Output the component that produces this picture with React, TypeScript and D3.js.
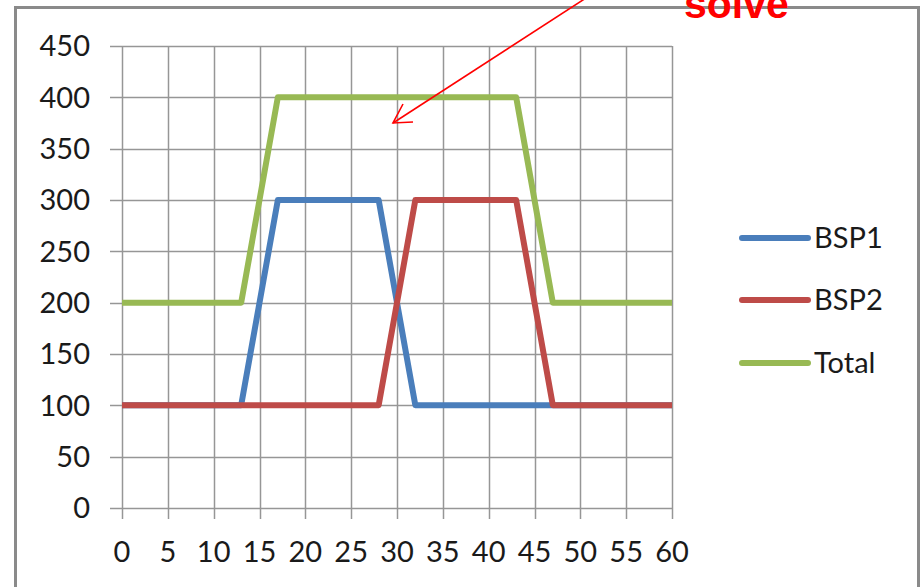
import { useEffect, useRef } from 'react';
import * as d3 from 'd3';

// breakpoints of the three series (x = time)
const times = [0, 13, 17, 28, 32, 43, 47, 60];
const bsp1 = [100, 100, 300, 300, 100, 100, 100, 100];
const bsp2 = [100, 100, 100, 100, 300, 300, 100, 100];
const total = [200, 200, 400, 400, 400, 400, 200, 200];

const xTicks = [0, 5, 10, 15, 20, 25, 30, 35, 40, 45, 50, 55, 60];
const yTicks = [0, 50, 100, 150, 200, 250, 300, 350, 400, 450];

const seriesNames = ['BSP1', 'BSP2', 'Total'];
const seriesColors = ['#4A7EBB', '#BE4B48', '#98B954'];

export default function App() {
    const ref = useRef<SVGSVGElement>(null);

    useEffect(() => {
        if (!ref.current) return;
        const svg = d3.select(ref.current);
        svg.selectAll('*').remove();

        const width = 922;
        const height = 587;
        const font = 'Lato, "Open Sans", sans-serif';
        const grid = '#969696';

        // outer frame
        svg.append('rect')
            .attr('x', 15.5).attr('y', 7.5)
            .attr('width', 903).attr('height', height + 10)
            .attr('fill', 'white')
            .attr('stroke', '#8a8a8a')
            .attr('stroke-width', 3);

        const x = d3.scaleLinear().domain([0, 60]).range([122, 672]);
        const y = d3.scaleLinear().domain([0, 450]).range([508, 46]);

        // horizontal gridlines (extend left as tick marks)
        svg.append('g')
            .selectAll('line')
            .data(yTicks)
            .join('line')
            .attr('x1', x(0) - 12).attr('x2', x(60))
            .attr('y1', d => Math.round(y(d)) + 0.5).attr('y2', d => Math.round(y(d)) + 0.5)
            .attr('stroke', grid).attr('stroke-width', 1.5);

        // vertical gridlines (extend below as tick marks)
        svg.append('g')
            .selectAll('line')
            .data(xTicks)
            .join('line')
            .attr('x1', d => Math.round(x(d)) + 0.5).attr('x2', d => Math.round(x(d)) + 0.5)
            .attr('y1', y(450)).attr('y2', y(0) + 11)
            .attr('stroke', grid).attr('stroke-width', 1.5);

        // y labels
        svg.append('g')
            .selectAll('text')
            .data(yTicks)
            .join('text')
            .attr('x', 90)
            .attr('y', d => y(d))
            .attr('dy', '0.36em')
            .attr('text-anchor', 'end')
            .attr('font-family', font)
            .attr('font-size', 29)
            .attr('fill', '#1a1a1a')
            .text(d => d);

        // x labels
        svg.append('g')
            .selectAll('text')
            .data(xTicks)
            .join('text')
            .attr('x', d => x(d))
            .attr('y', 552)
            .attr('dy', '0.36em')
            .attr('text-anchor', 'middle')
            .attr('font-family', font)
            .attr('font-size', 29)
            .attr('fill', '#1a1a1a')
            .text(d => d);

        const line = d3.line<number>()
            .x((_, i) => x(times[i]))
            .y(d => y(d));

        [bsp1, bsp2, total].forEach((vals, i) => {
            svg.append('path')
                .datum(vals)
                .attr('d', line)
                .attr('fill', 'none')
                .attr('stroke', seriesColors[i])
                .attr('stroke-width', 6)
                .attr('stroke-linejoin', 'round');
        });

        // legend
        const legendY = [238, 300, 363];
        seriesNames.forEach((name, i) => {
            svg.append('line')
                .attr('x1', 742).attr('x2', 808)
                .attr('y1', legendY[i]).attr('y2', legendY[i])
                .attr('stroke', seriesColors[i])
                .attr('stroke-width', 6)
                .attr('stroke-linecap', 'round');
            svg.append('text')
                .attr('x', 814)
                .attr('y', legendY[i])
                .attr('dy', '0.36em')
                .attr('font-family', font)
                .attr('font-size', 29)
                .attr('fill', '#1a1a1a')
                .text(name);
        });

        // annotation (cut off by the top edge, as in the source image)
        svg.append('text')
            .attr('x', 684)
            .attr('y', 18)
            .attr('font-family', '"Liberation Sans", Arial, sans-serif')
            .attr('font-weight', 'bold')
            .attr('font-size', 41)
            .attr('fill', '#ff0000')
            .text('solve');

        const tip: [number, number] = [393, 123];
        svg.append('line')
            .attr('x1', 586).attr('y1', -2)
            .attr('x2', tip[0]).attr('y2', tip[1])
            .attr('stroke', '#ff0000').attr('stroke-width', 1.6);
        svg.append('path')
            .attr('d', `M${tip[0] + 10},${tip[1] - 19} L${tip[0]},${tip[1]} L${tip[0] + 20},${tip[1] - 1}`)
            .attr('fill', 'none')
            .attr('stroke', '#ff0000').attr('stroke-width', 1.6);

        svg.attr('width', width).attr('height', height);
    }, []);

    return (
        <svg
            ref={ref}
            width={922}
            height={587}
            style={{ position: 'absolute', left: 0, top: 0, background: 'white' }}
        />
    );
}
